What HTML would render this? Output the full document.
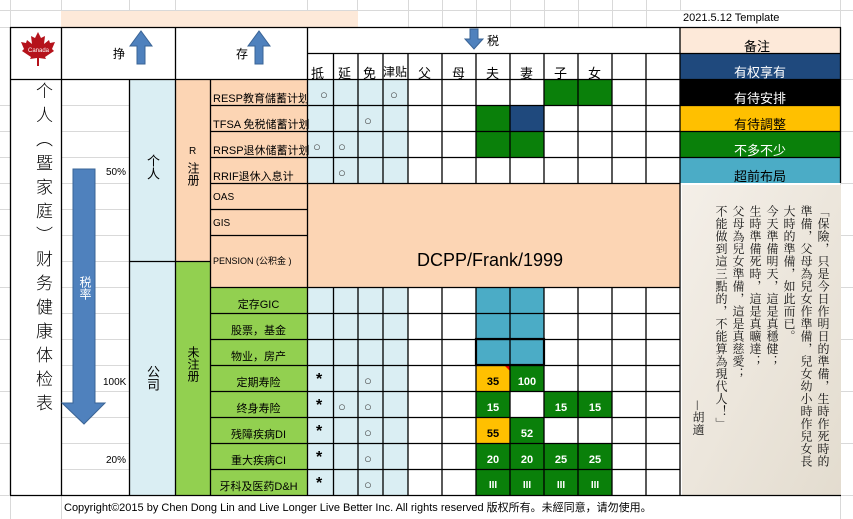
<!DOCTYPE html>
<html><head><meta charset="utf-8">
<style>
body{margin:0;width:853px;height:519px;overflow:hidden;background:#fff;position:relative;font-family:"Liberation Sans","Noto Sans CJK SC",sans-serif;}
svg{position:absolute;left:0;top:0}
.t{position:absolute;font-family:"Liberation Sans","Noto Sans CJK SC",sans-serif;white-space:nowrap;}
.v{position:absolute;writing-mode:vertical-rl;font-family:"Noto Sans CJK SC",sans-serif;white-space:nowrap;}
.poem{position:absolute;writing-mode:vertical-rl;font-family:"Noto Serif CJK SC","Noto Sans CJK SC",serif;font-size:12px;line-height:17px;color:#111;letter-spacing:0.5px;}
</style></head><body>
<svg width="853" height="519" xmlns="http://www.w3.org/2000/svg">
<g stroke="#d9d9d9" stroke-width="1">
<line x1="0" y1="10.5" x2="853" y2="10.5"/>
<line x1="0" y1="27.5" x2="10" y2="27.5"/>
<line x1="0" y1="105.5" x2="10" y2="105.5"/><line x1="0" y1="131.5" x2="10" y2="131.5"/><line x1="0" y1="157.5" x2="10" y2="157.5"/><line x1="0" y1="183.5" x2="10" y2="183.5"/><line x1="0" y1="209.5" x2="10" y2="209.5"/><line x1="0" y1="235.5" x2="10" y2="235.5"/><line x1="0" y1="287.5" x2="10" y2="287.5"/><line x1="0" y1="339.5" x2="10" y2="339.5"/><line x1="0" y1="391.5" x2="10" y2="391.5"/><line x1="0" y1="443.5" x2="10" y2="443.5"/><line x1="0" y1="495.5" x2="10" y2="495.5"/>
<line x1="841" y1="79.5" x2="853" y2="79.5"/><line x1="841" y1="131.5" x2="853" y2="131.5"/><line x1="841" y1="183.5" x2="853" y2="183.5"/><line x1="841" y1="235.5" x2="853" y2="235.5"/><line x1="841" y1="287.5" x2="853" y2="287.5"/><line x1="841" y1="339.5" x2="853" y2="339.5"/><line x1="841" y1="391.5" x2="853" y2="391.5"/><line x1="841" y1="443.5" x2="853" y2="443.5"/><line x1="841" y1="495.5" x2="853" y2="495.5"/>
<line x1="61.5" y1="0" x2="61.5" y2="27"/><line x1="129.5" y1="0" x2="129.5" y2="27"/><line x1="175.5" y1="0" x2="175.5" y2="27"/><line x1="307.5" y1="0" x2="307.5" y2="27"/><line x1="357.5" y1="0" x2="357.5" y2="27"/><line x1="408.5" y1="0" x2="408.5" y2="27"/><line x1="442.5" y1="0" x2="442.5" y2="27"/><line x1="476.5" y1="0" x2="476.5" y2="27"/><line x1="510.5" y1="0" x2="510.5" y2="27"/><line x1="544.5" y1="0" x2="544.5" y2="27"/><line x1="578.5" y1="0" x2="578.5" y2="27"/><line x1="612.5" y1="0" x2="612.5" y2="27"/><line x1="646.5" y1="0" x2="646.5" y2="27"/><line x1="680.5" y1="0" x2="680.5" y2="10"/><line x1="840.5" y1="0" x2="840.5" y2="519"/>
<line x1="10.5" y1="0" x2="10.5" y2="519"/><line x1="61.5" y1="495" x2="61.5" y2="519"/>
<line x1="61" y1="105.5" x2="129" y2="105.5"/><line x1="61" y1="131.5" x2="129" y2="131.5"/><line x1="61" y1="157.5" x2="129" y2="157.5"/><line x1="61" y1="183.5" x2="129" y2="183.5"/><line x1="61" y1="209.5" x2="129" y2="209.5"/><line x1="61" y1="235.5" x2="129" y2="235.5"/><line x1="61" y1="261.5" x2="129" y2="261.5"/><line x1="61" y1="287.5" x2="129" y2="287.5"/><line x1="61" y1="313.5" x2="129" y2="313.5"/><line x1="61" y1="339.5" x2="129" y2="339.5"/><line x1="61" y1="365.5" x2="129" y2="365.5"/><line x1="61" y1="391.5" x2="129" y2="391.5"/><line x1="61" y1="417.5" x2="129" y2="417.5"/><line x1="61" y1="443.5" x2="129" y2="443.5"/><line x1="61" y1="469.5" x2="129" y2="469.5"/>
</g>
<rect x="61" y="11" width="297" height="16" fill="#fde9d9"/>
<rect x="129" y="79" width="46" height="416" fill="#daeef3"/>
<rect x="175" y="79" width="35" height="182" fill="#fcd5b4"/>
<rect x="175" y="261" width="35" height="234" fill="#92d050"/>
<rect x="210" y="79" width="97" height="208" fill="#fcd5b4"/>
<rect x="307" y="183" width="373" height="104" fill="#fcd5b4"/>
<rect x="210" y="287" width="97" height="208" fill="#92d050"/>
<rect x="307" y="79" width="101" height="104" fill="#daeef3"/>
<rect x="307" y="287" width="101" height="208" fill="#daeef3"/>
<rect x="680" y="27" width="160" height="26" fill="#fde9d9"/>
<rect x="680" y="53" width="160" height="26" fill="#1f497d"/>
<rect x="680" y="79" width="160" height="26" fill="#000"/>
<rect x="680" y="105" width="160" height="26" fill="#ffc000"/>
<rect x="680" y="131" width="160" height="26" fill="#0a800a"/>
<rect x="680" y="157" width="160" height="26" fill="#4bacc6"/>
<defs><linearGradient id="pg" x1="0" y1="0" x2="1" y2="1"><stop offset="0" stop-color="#f4efe8"/><stop offset="0.5" stop-color="#ece6dc"/><stop offset="1" stop-color="#e3dccf"/></linearGradient></defs>
<rect x="682" y="185" width="159" height="310" fill="url(#pg)"/>
<g fill="#0a800a">
<rect x="544" y="79" width="68" height="26"/>
<rect x="476" y="105" width="34" height="52"/><rect x="510" y="131" width="34" height="26"/>
<rect x="510" y="365" width="34" height="26"/>
<rect x="476" y="391" width="34" height="26"/><rect x="544" y="391" width="68" height="26"/>
<rect x="510" y="417" width="34" height="26"/>
<rect x="476" y="443" width="136" height="52"/>
</g>
<rect x="510" y="105" width="34" height="26" fill="#1f497d"/>
<rect x="476" y="287" width="68" height="78" fill="#4bacc6"/>
<rect x="476" y="365" width="34" height="26" fill="#ffc000"/>
<rect x="476" y="417" width="34" height="26" fill="#ffc000"/>
<polygon points="504,365 510,365 510,371" fill="#e00"/>
<g stroke="#000" stroke-width="1.3">
<line x1="10" y1="27.5" x2="841" y2="27.5"/>
<line x1="307" y1="53.5" x2="841" y2="53.5"/>
<line x1="10" y1="79.5" x2="841" y2="79.5"/>
<line x1="210" y1="105.5" x2="841" y2="105.5"/><line x1="210" y1="131.5" x2="841" y2="131.5"/><line x1="210" y1="157.5" x2="841" y2="157.5"/><line x1="210" y1="183.5" x2="680" y2="183.5"/>
<line x1="210" y1="209.5" x2="307" y2="209.5"/><line x1="210" y1="235.5" x2="307" y2="235.5"/>
<line x1="129" y1="261.5" x2="210" y2="261.5"/>
<line x1="210" y1="287.5" x2="680" y2="287.5"/><line x1="210" y1="313.5" x2="680" y2="313.5"/><line x1="210" y1="339.5" x2="680" y2="339.5"/><line x1="210" y1="365.5" x2="680" y2="365.5"/><line x1="210" y1="391.5" x2="680" y2="391.5"/><line x1="210" y1="417.5" x2="680" y2="417.5"/><line x1="210" y1="443.5" x2="680" y2="443.5"/><line x1="210" y1="469.5" x2="680" y2="469.5"/>
<line x1="10" y1="495.5" x2="841" y2="495.5"/>
<line x1="10.5" y1="27" x2="10.5" y2="495"/><line x1="61.5" y1="27" x2="61.5" y2="495"/>
<line x1="175.5" y1="27" x2="175.5" y2="79"/><line x1="307.5" y1="27" x2="307.5" y2="495"/>
<line x1="129.5" y1="79" x2="129.5" y2="495"/><line x1="175.5" y1="79" x2="175.5" y2="495"/><line x1="210.5" y1="79" x2="210.5" y2="495"/>
<line x1="680" y1="27" x2="680" y2="495"/><line x1="840.5" y1="27" x2="840.5" y2="183"/>
</g>
<g stroke="#000" stroke-width="1.3">
<line x1="333.5" y1="53" x2="333.5" y2="183"/><line x1="358" y1="53" x2="358" y2="183"/><line x1="383" y1="53" x2="383" y2="183"/><line x1="408" y1="53" x2="408" y2="183"/><line x1="442" y1="53" x2="442" y2="183"/><line x1="476" y1="53" x2="476" y2="183"/><line x1="510" y1="53" x2="510" y2="183"/><line x1="544" y1="53" x2="544" y2="183"/><line x1="578" y1="53" x2="578" y2="183"/><line x1="612" y1="53" x2="612" y2="183"/><line x1="646" y1="53" x2="646" y2="183"/>
<line x1="333.5" y1="287" x2="333.5" y2="495"/><line x1="358" y1="287" x2="358" y2="495"/><line x1="383" y1="287" x2="383" y2="495"/><line x1="408" y1="287" x2="408" y2="495"/><line x1="442" y1="287" x2="442" y2="495"/><line x1="476" y1="287" x2="476" y2="495"/><line x1="510" y1="287" x2="510" y2="495"/><line x1="544" y1="287" x2="544" y2="495"/><line x1="578" y1="287" x2="578" y2="495"/><line x1="612" y1="287" x2="612" y2="495"/><line x1="646" y1="287" x2="646" y2="495"/>
</g>
<rect x="476" y="339" width="68" height="26" fill="none" stroke="#000" stroke-width="2.2"/>
<g fill="#4f81bd" stroke="#3a6496" stroke-width="1">
<polygon points="137,64 145,64 145,46 152,46 141,31 130,46 137,46"/>
<polygon points="255,64 263,64 263,46 270,46 259,31 248,46 255,46"/>
<polygon points="470,29 478,29 478,39 483,39 474,49 465,39 470,39"/>
<polygon points="73,169 95,169 95,403 105,403 84,424 62,403 73,403"/>
</g>
<polygon fill="#b5121b" points="38,32 41,38 45,36 44,44 49,40 50,43 55,42 52,49 54,51 45,57 46,59 39,58 39,66 37,66 37,58 30,59 31,57 22,51 24,49 21,42 26,43 27,40 32,44 31,36 35,38" />
<g font-size="13" font-family="Liberation Sans,sans-serif" fill="#444">
<text x="320" y="99">○</text><text x="390" y="99">○</text><text x="364" y="125">○</text>
<text x="313" y="151">○</text><text x="338" y="151">○</text><text x="338" y="177">○</text>
<text x="364" y="385">○</text><text x="338" y="411">○</text><text x="364" y="411">○</text><text x="364" y="437">○</text><text x="364" y="463">○</text><text x="364" y="489">○</text>
</g>
<g font-size="16" font-family="Liberation Sans,sans-serif" fill="#000" font-weight="bold">
<text x="316" y="384">*</text><text x="316" y="410">*</text><text x="316" y="436">*</text><text x="316" y="462">*</text><text x="316" y="488">*</text>
</g>
</svg>
<div class="t" style="left:28px;top:48px;font-size:6px;color:#fff;">Canada</div>
<div class="t" style="left:683px;top:12px;font-size:11px;">2021.5.12 Template</div>
<div class="t" style="left:113px;top:45px;font-size:12px;">挣</div>
<div class="t" style="left:236px;top:45px;font-size:12px;">存</div>
<div class="t" style="left:487px;top:32px;font-size:12px;">税</div>
<div class="t" style="left:311px;top:63px;font-size:13px;">抵</div>
<div class="t" style="left:338px;top:63px;font-size:13px;">延</div>
<div class="t" style="left:363px;top:63px;font-size:13px;">免</div>
<div class="t" style="left:383px;top:63px;font-size:12px;">津贴</div>
<div class="t" style="left:418px;top:63px;font-size:13px;">父</div>
<div class="t" style="left:452px;top:63px;font-size:13px;">母</div>
<div class="t" style="left:486px;top:63px;font-size:13px;">夫</div>
<div class="t" style="left:520px;top:63px;font-size:13px;">妻</div>
<div class="t" style="left:554px;top:63px;font-size:13px;">子</div>
<div class="t" style="left:588px;top:63px;font-size:13px;">女</div>
<div class="t" style="left:744px;top:36px;font-size:13px;">备注</div>
<div class="t" style="left:734px;top:62px;font-size:13px;color:#fff;">有权享有</div>
<div class="t" style="left:734px;top:88px;font-size:13px;color:#fff;">有待安排</div>
<div class="t" style="left:734px;top:114px;font-size:13px;color:#000;">有待調整</div>
<div class="t" style="left:734px;top:140px;font-size:13px;color:#fff;">不多不少</div>
<div class="t" style="left:734px;top:166px;font-size:13px;color:#000;">超前布局</div>
<div class="v" style="left:34px;top:82px;font-size:17px;line-height:20px;letter-spacing:7px;font-weight:300;">个人︵暨家庭︶财务健康体检表</div>
<div class="v" style="left:77px;top:276px;font-size:12px;color:#fff;">税率</div>
<div class="t" style="left:106px;top:167px;font-size:10px;">50%</div>
<div class="t" style="left:103px;top:377px;font-size:10px;">100K</div>
<div class="t" style="left:106px;top:455px;font-size:10px;">20%</div>
<div class="v" style="left:144px;top:154px;font-size:13px;">个人</div>
<div class="v" style="left:144px;top:365px;font-size:13px;">公司</div>
<div class="t" style="left:189px;top:146px;font-size:10px;">R</div>
<div class="v" style="left:185px;top:162px;font-size:12px;">注册</div>
<div class="v" style="left:185px;top:346px;font-size:12px;">未注册</div>
<div class="t" style="left:213px;top:90px;font-size:11px;">RESP教育儲蓄计划</div>
<div class="t" style="left:213px;top:116px;font-size:11px;">TFSA 免税储蓄计划</div>
<div class="t" style="left:213px;top:142px;font-size:11px;">RRSP退休储蓄计划</div>
<div class="t" style="left:213px;top:168px;font-size:11px;">RRIF退休入息计</div>
<div class="t" style="left:213px;top:192px;font-size:10px;">OAS</div>
<div class="t" style="left:213px;top:218px;font-size:10px;">GIS</div>
<div class="t" style="left:213px;top:254px;font-size:9px;">PENSION (公积金 )</div>
<div class="t" style="left:417px;top:250px;font-size:18px;">DCPP/Frank/1999</div>
<div class="t" style="left:210px;top:296px;width:97px;text-align:center;font-size:11px;">定存GIC</div>
<div class="t" style="left:210px;top:322px;width:97px;text-align:center;font-size:11px;">股票，基金</div>
<div class="t" style="left:210px;top:348px;width:97px;text-align:center;font-size:11px;">物业，房产</div>
<div class="t" style="left:210px;top:374px;width:97px;text-align:center;font-size:11px;">定期寿险</div>
<div class="t" style="left:210px;top:400px;width:97px;text-align:center;font-size:11px;">终身寿险</div>
<div class="t" style="left:210px;top:426px;width:97px;text-align:center;font-size:11px;">残障疾病DI</div>
<div class="t" style="left:210px;top:452px;width:97px;text-align:center;font-size:11px;">重大疾病CI</div>
<div class="t" style="left:210px;top:478px;width:97px;text-align:center;font-size:11px;">牙科及医药D&amp;H</div>
<div class="t" style="left:476px;top:376px;width:34px;text-align:center;font-size:11px;font-weight:bold;">35</div>
<div class="t" style="left:510px;top:376px;width:34px;text-align:center;font-size:11px;font-weight:bold;color:#fff;">100</div>
<div class="t" style="left:476px;top:402px;width:34px;text-align:center;font-size:11px;font-weight:bold;color:#fff;">15</div>
<div class="t" style="left:544px;top:402px;width:34px;text-align:center;font-size:11px;font-weight:bold;color:#fff;">15</div>
<div class="t" style="left:578px;top:402px;width:34px;text-align:center;font-size:11px;font-weight:bold;color:#fff;">15</div>
<div class="t" style="left:476px;top:428px;width:34px;text-align:center;font-size:11px;font-weight:bold;">55</div>
<div class="t" style="left:510px;top:428px;width:34px;text-align:center;font-size:11px;font-weight:bold;color:#fff;">52</div>
<div class="t" style="left:476px;top:454px;width:34px;text-align:center;font-size:11px;font-weight:bold;color:#fff;">20</div>
<div class="t" style="left:510px;top:454px;width:34px;text-align:center;font-size:11px;font-weight:bold;color:#fff;">20</div>
<div class="t" style="left:544px;top:454px;width:34px;text-align:center;font-size:11px;font-weight:bold;color:#fff;">25</div>
<div class="t" style="left:578px;top:454px;width:34px;text-align:center;font-size:11px;font-weight:bold;color:#fff;">25</div>
<div class="t" style="left:476px;top:480px;width:34px;text-align:center;font-size:10px;font-weight:bold;color:#fff;">III</div>
<div class="t" style="left:510px;top:480px;width:34px;text-align:center;font-size:10px;font-weight:bold;color:#fff;">III</div>
<div class="t" style="left:544px;top:480px;width:34px;text-align:center;font-size:10px;font-weight:bold;color:#fff;">III</div>
<div class="t" style="left:578px;top:480px;width:34px;text-align:center;font-size:10px;font-weight:bold;color:#fff;">III</div>
<div class="t" style="left:64px;top:499px;font-size:11px;">Copyright©2015 by Chen Dong Lin and Live Longer Live Better Inc. All rights reserved 版权所有。未經同意，请勿使用。</div>
<div class="poem" style="left:713px;top:205px;height:270px;">「保險，只是今日作明日的準備，生時作死時的準備，父母為兒女作準備，兒女幼小時作兒女長大時的準備，如此而已。<br>今天準備明天，這是真穩健；<br>生時準備死時，這是真曠達；<br>父母為兒女準備，這是真慈愛；<br>不能做到這三點的，不能算為現代人！」</div>
<div class="poem" style="left:690px;top:400px;">—胡適</div>
</body></html>
